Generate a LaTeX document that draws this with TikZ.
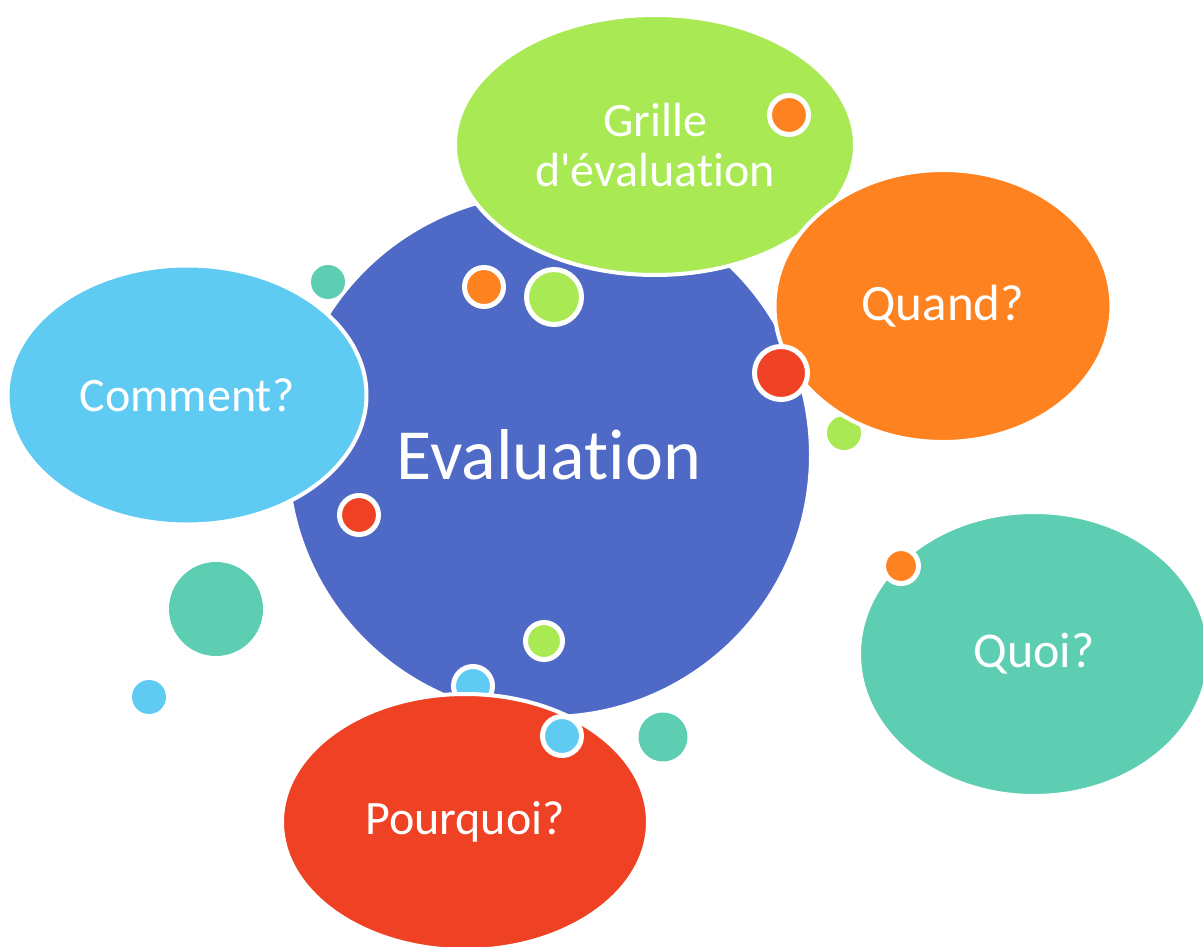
\documentclass[tikz,border=0pt]{standalone}
\usepackage{fontspec}
\setmainfont{Carlito}[Ligatures={NoCommon}]
\usepackage{tikz}
\usetikzlibrary{shapes.geometric}

\definecolor{bleuE}{HTML}{4F69C7}
\definecolor{vertE}{HTML}{A9EA54}
\definecolor{orangeE}{HTML}{FF8221}
\definecolor{rougeE}{HTML}{EF4224}
\definecolor{cyanE}{HTML}{5FCBF3}
\definecolor{turqE}{HTML}{5ECEB2}

\begin{document}
\begin{tikzpicture}[x=1pt, y=-1pt,
    bulle/.style={ellipse, draw=white, line width=4pt, text=white, align=center,
        inner sep=0pt, font=\fontsize{48}{50}\selectfont},
    point/.style={circle, inner sep=0pt},
    pointb/.style={circle, inner sep=0pt, draw=white, line width=5pt}]
    \useasboundingbox (0,0) rectangle (1203,947);

    % Dessine le grand cercle central
    \node[circle, fill=bleuE, draw=white, line width=4pt, minimum size=524pt, text=white,
        font=\fontsize{72}{80}\selectfont] (eval) at (549,455) {Evaluation};

    % Petits points sous les bulles
    \node[point, fill=turqE, minimum size=34pt] (p1) at (328,282) {};
    \node[point, fill=vertE, minimum size=34pt] (p2) at (844,433) {};
    \node[pointb, fill=cyanE, minimum size=39pt] (p3) at (473,686) {};

    % Dessine les bulles
    \node[bulle, fill=vertE, minimum width=400pt, minimum height=260pt] (grille) at (655,145) {Grille\\d\textquotesingle évaluation};
    \node[bulle, fill=orangeE, minimum width=337pt, minimum height=272pt,
        font=\fontsize{51}{55}\selectfont] (quand) at (943,306) {Quand?};
    \node[bulle, fill=cyanE, minimum width=359pt, minimum height=259pt] (comment) at (187,395) {Comment?};
    \node[bulle, fill=turqE, minimum width=350pt, minimum height=284pt,
        font=\fontsize{50}{54}\selectfont] (quoi) at (1034,654) {Quoi?};
    \node[bulle, fill=rougeE, minimum width=366pt, minimum height=256pt] (pourquoi) at (465,822) {Pourquoi?};

    % Petits points par-dessus
    \node[pointb, fill=orangeE, minimum size=39pt] (p4) at (484,287) {};
    \node[pointb, fill=vertE, minimum size=55pt] (p5) at (554,297) {};
    \node[pointb, fill=orangeE, minimum size=39pt] (p6) at (789,115) {};
    \node[pointb, fill=rougeE, minimum size=53pt] (p7) at (781,373) {};
    \node[pointb, fill=rougeE, minimum size=39pt] (p8) at (359,515) {};
    \node[pointb, fill=vertE, minimum size=37pt] (p9) at (544,641) {};
    \node[pointb, fill=cyanE, minimum size=39pt] (p10) at (562,736) {};
    \node[pointb, fill=orangeE, minimum size=35pt] (p11) at (901,566) {};
    \node[point, fill=turqE, minimum size=94pt] (p12) at (216,609) {};
    \node[point, fill=cyanE, minimum size=34pt] (p13) at (149,697) {};
    \node[point, fill=turqE, minimum size=49pt] (p14) at (663,737) {};
\end{tikzpicture}
\end{document}
